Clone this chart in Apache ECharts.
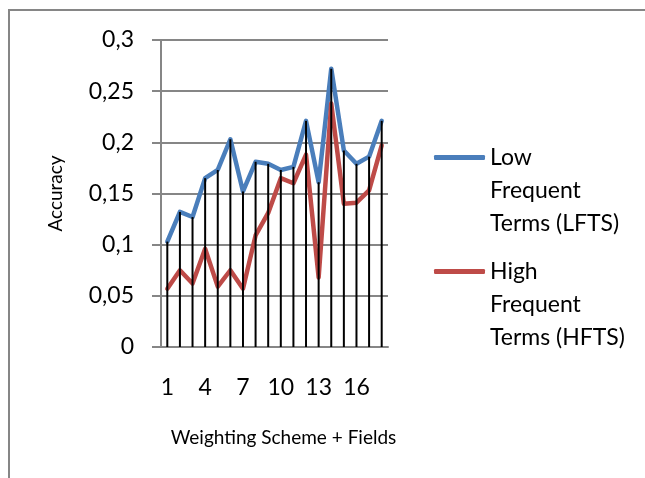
<!DOCTYPE html>
<html>
<head>
<meta charset="utf-8">
<script src="https://cdn.jsdelivr.net/npm/echarts@6/dist/echarts.min.js"></script>
<style>html,body{margin:0;padding:0;background:#fff;overflow:hidden;}#c{width:645px;height:478px;}</style>
</head>
<body>
<div id="c"></div>
<script>
const categories = ['1','2','3','4','5','6','7','8','9','10','11','12','13','14','15','16','17','18'];
const lowFrequent = [0.103,0.132,0.127,0.165,0.173,0.203,0.152,0.181,0.179,0.173,0.176,0.221,0.161,0.272,0.192,0.179,0.186,0.221];
const highFrequent = [0.057,0.075,0.062,0.096,0.059,0.075,0.057,0.109,0.131,0.165,0.160,0.188,0.068,0.238,0.140,0.141,0.153,0.197];
const yTicks = [0,0.05,0.1,0.15,0.2,0.25,0.3];
const lowName = 'Low Frequent Terms (LFTS)';
const highName = 'High Frequent Terms (HFTS)';
const dropLines = lowFrequent.map((v,i)=>Math.max(v, highFrequent[i]));

const FONT = 'Lato';
const grey = '#868686';
const chart = echarts.init(document.getElementById('c'), null, {renderer:'canvas'});
const legendText = {fontFamily: FONT, fontSize: 23, color: '#000', lineHeight: 33};
chart.setOption({
  animation: false,
  backgroundColor: '#fff',
  graphic: [
    {type:'polyline', shape:{points:[[9,490],[9,10],[660,10]]}, style:{stroke:grey, lineWidth:2, fill:null}, silent:true}
  ],
  grid: {left:161, right:257, top:40, bottom:131, containLabel:false},
  legend: [
    {data:[lowName], orient:'vertical', left:429, top:70, icon:'roundRect', itemWidth:51, itemHeight:5, itemGap:0,
     textStyle: legendText, formatter: ()=> '\n\nLow\nFrequent\nTerms (LFTS)'},
    {data:[highName], orient:'vertical', left:429, top:184, icon:'roundRect', itemWidth:51, itemHeight:5, itemGap:0,
     textStyle: legendText, formatter: ()=> '\n\nHigh\nFrequent\nTerms (HFTS)'}
  ],
  xAxis: {
    type:'category', data: categories, boundaryGap:true,
    name:'Weighting Scheme + Fields', nameLocation:'middle', nameGap:81,
    nameTextStyle:{fontFamily:FONT, fontSize:19, color:'#000', padding:[0,0,0,18]},
    axisLine:{show:true, lineStyle:{color:grey, width:2}},
    axisTick:{show:false},
    axisLabel:{interval:2, margin:29, fontFamily:FONT, fontSize:23, color:'#000'},
    splitLine:{show:false}
  },
  yAxis: {
    type:'value', min:0, max:0.3, interval:0.05,
    name:'Accuracy', nameLocation:'middle', nameGap:96, nameRotate:90,
    nameTextStyle:{fontFamily:FONT, fontSize:19, color:'#000'},
    axisLine:{show:true, lineStyle:{color:grey, width:2}},
    axisTick:{show:true, length:9, lineStyle:{color:grey, width:2}},
    axisLabel:{margin:27, fontFamily:FONT, fontSize:23, color:'#000',
      formatter: v => String(Math.round(v*100)/100).replace('.', ',')},
    splitLine:{show:true, lineStyle:{color:grey, width:2}}
  },
  series: [
    {name:lowName, type:'line', data: lowFrequent, symbol:'none', z:2,
     lineStyle:{color:'#4A7EBB', width:4.5, cap:'round', join:'round'}, itemStyle:{color:'#4A7EBB'}},
    {name:highName, type:'line', data: highFrequent, symbol:'none', z:2,
     lineStyle:{color:'#BE4B48', width:4.5, cap:'round', join:'round'}, itemStyle:{color:'#BE4B48'}},
    {name:'drop', type:'bar', data: dropLines, barWidth:2, z:3, itemStyle:{color:'#000'}, silent:true}
  ]
});
</script>
</body>
</html>
